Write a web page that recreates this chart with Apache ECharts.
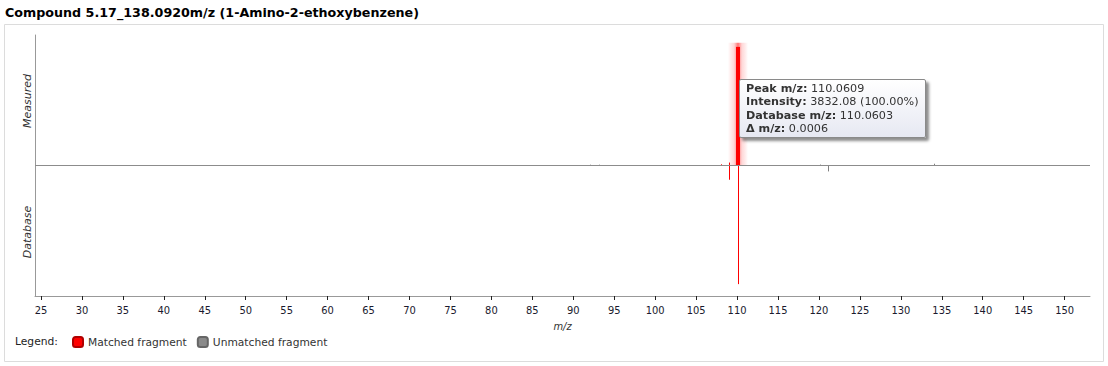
<!DOCTYPE html>
<html>
<head>
<meta charset="utf-8">
<script src="https://cdn.jsdelivr.net/npm/echarts@6/dist/echarts.min.js"></script>
<style>
html,body{margin:0;padding:0;background:#fff;}
#chart{width:1108px;height:366px;}
</style>
</head>
<body>
<div id="chart"></div>
<script>
// ---- data ----
const titleText = 'Compound 5.17_138.0920m/z (1-Amino-2-ethoxybenzene)';
const xTicks = [25,30,35,40,45,50,55,60,65,70,75,80,85,90,95,100,105,110,115,120,125,130,135,140,145,150];
const xMin = 24.27, xMax = 153.1;
// measured spectrum (relative intensity %, drawn upward)
const measuredMz = [92.0, 93.1, 108.02, 109.05, 110.0609, 120.1, 134.0];
const measuredInt = [0.7, 0.7, 1.0, 2.5, 100, 0.8, 1.5];
const measuredMatched = [false, false, true, true, true, false, false];
// database spectrum (relative intensity %, drawn downward)
const databaseMz = [109.05, 110.0603, 121.08];
const databaseInt = [12, 100, 5];
const databaseMatched = [true, true, false];
// highlighted peak (tooltip)
const hlIndex = 4;
const hlAbsIntensity = 3832.08;
const hlDbMz = 110.0603;

const RED = '#ff0000', GREY = '#808080';
const FONT = 'DejaVu Sans';
const FONTC = 'DejaVu Sans Condensed';

function buildData(matched) {
  const out = [];
  measuredMz.forEach((m, i) => {
    if (measuredMatched[i] === matched) out.push({value: [m, measuredInt[i], i === hlIndex ? 1 : 0], src: 'm', idx: i});
  });
  databaseMz.forEach((m, i) => {
    if (databaseMatched[i] === matched) out.push({value: [m, -databaseInt[i], 0], src: 'd', idx: i});
  });
  return out;
}
const matchedData = buildData(true);
const unmatchedData = buildData(false);
const hlDataIndex = matchedData.findIndex(d => d.src === 'm' && d.idx === hlIndex);

function makeRender(color) {
  return function (params, api) {
    const x = api.value(0), y = api.value(1), hl = api.value(2);
    const p0 = api.coord([x, 0]), p1 = api.coord([x, y]);
    if (hl) {
      const cx = Math.round(p0[0]);
      const top = Math.min(p0[1], p1[1]);
      const h = Math.abs(p0[1] - p1[1]);
      return {
        type: 'group', children: [
          {type: 'rect', shape: {x: cx - 10, y: top - 4, width: 20, height: h + 4},
            style: {fill: new echarts.graphic.LinearGradient(0, 0, 1, 0, [
              {offset: 0, color: 'rgba(255,0,0,0)'},
              {offset: 0.3, color: 'rgba(255,40,40,0.18)'},
              {offset: 0.5, color: 'rgba(255,0,0,0.55)'},
              {offset: 0.7, color: 'rgba(255,40,40,0.18)'},
              {offset: 1, color: 'rgba(255,0,0,0)'}
            ])}},
          {type: 'rect', shape: {x: cx - 2, y: top, width: 4, height: h}, style: {fill: color}}
        ]
      };
    }
    const px = Math.round(p0[0]) + 0.5;
    return {type: 'line', shape: {x1: px, y1: p0[1], x2: px, y2: p1[1]}, style: {stroke: color, lineWidth: 1}};
  };
}

const chart = echarts.init(document.getElementById('chart'), null, {renderer: 'svg'});
const option = {
  animation: false,
  textStyle: {fontFamily: FONT},
  title: {
    text: titleText, left: 5, top: 6, padding: 0,
    textStyle: {fontFamily: FONT, fontWeight: 'bold', fontSize: 12.7, color: '#000'}
  },
  grid: {left: 35, right: 18, top: 35, bottom: 70},
  xAxis: {
    type: 'value', min: xMin, max: xMax,
    name: 'm/z', nameLocation: 'middle', nameGap: 25,
    nameTextStyle: {fontStyle: 'italic', fontSize: 11, color: '#333', fontFamily: FONTC},
    axisLine: {onZero: false, lineStyle: {color: '#999'}},
    axisTick: {show: true, length: 4, lineStyle: {color: '#222'}, customValues: xTicks},
    axisLabel: {customValues: xTicks, fontSize: 11, color: '#1a1a2e', margin: 9, fontFamily: FONTC},
    splitLine: {show: false}
  },
  yAxis: {
    type: 'value', min: -110, max: 110,
    axisLine: {show: true, onZero: false, lineStyle: {color: '#999'}},
    axisTick: {show: false}, axisLabel: {show: false}, splitLine: {show: false}
  },
  legend: {
    left: 72, top: 336, padding: 0, selectedMode: false, itemWidth: 10, itemHeight: 10, itemGap: 10,
    icon: 'roundRect',
    textStyle: {fontSize: 10.7, color: '#333', fontFamily: FONT},
    data: ['Matched fragment', 'Unmatched fragment']
  },
  tooltip: {
    trigger: 'item', triggerOn: 'none', alwaysShowContent: true, transitionDuration: 0,
    renderMode: 'html', padding: [2, 6], borderWidth: 1, borderColor: '#8a8a8a', borderRadius: 2,
    backgroundColor: 'transparent',
    extraCssText: 'background:linear-gradient(#ffffff,#e6e8f2);box-shadow:3px 3px 3px rgba(0,0,0,0.45);',
    textStyle: {fontFamily: FONT, fontSize: 11, color: '#333'},
    position: function (point) { return [point[0] + 1, point[1] + 32]; },
    formatter: function () {
      const m = measuredMz[hlIndex];
      const pct = measuredInt[hlIndex];
      const delta = Math.abs(m - hlDbMz);
      return '<div style="line-height:13.3px;font-family:DejaVu Sans;font-size:11.2px;color:#333">' +
        '<b>Peak m/z:</b> ' + m.toFixed(4) + '<br>' +
        '<b>Intensity:</b> ' + hlAbsIntensity.toFixed(2) + ' (' + pct.toFixed(2) + '%)<br>' +
        '<b>Database m/z:</b> ' + hlDbMz.toFixed(4) + '<br>' +
        '<b>\u0394 m/z:</b> ' + delta.toFixed(4) + '</div>';
    }
  },
  graphic: [
    {type: 'rect', shape: {x: 4.5, y: 24.5, width: 1099, height: 337}, style: {fill: 'none', stroke: '#dcdcdc', lineWidth: 1}, silent: true, z: -1},
    {type: 'text', x: 27, y: 101, rotation: Math.PI / 2, style: {text: 'Measured', fontFamily: FONT, fontStyle: 'italic', fontSize: 11, fill: '#333', align: 'center', verticalAlign: 'middle'}},
    {type: 'text', x: 27, y: 232, rotation: Math.PI / 2, style: {text: 'Database', fontFamily: FONT, fontStyle: 'italic', fontSize: 11, fill: '#333', align: 'center', verticalAlign: 'middle'}},
    {type: 'text', x: 15, y: 341, style: {text: 'Legend:', fontFamily: FONT, fontSize: 10.7, fill: '#222', verticalAlign: 'middle'}}
  ],
  series: [
    {
      name: 'Matched fragment', type: 'custom', renderItem: makeRender(RED),
      encode: {x: 0, y: 1}, data: matchedData,
      itemStyle: {color: RED, borderColor: '#b00000', borderWidth: 1},
      markLine: {
        silent: true, symbol: 'none', label: {show: false},
        lineStyle: {color: '#8c8c8c', width: 1, type: 'solid'},
        data: [{yAxis: 0}]
      },
      z: 3
    },
    {
      name: 'Unmatched fragment', type: 'custom', renderItem: makeRender(GREY),
      encode: {x: 0, y: 1}, data: unmatchedData,
      itemStyle: {color: '#8a8a8a', borderColor: '#666', borderWidth: 1},
      z: 2
    }
  ]
};
chart.setOption(option);
chart.dispatchAction({type: 'showTip', seriesIndex: 0, dataIndex: hlDataIndex});
</script>
</body>
</html>
